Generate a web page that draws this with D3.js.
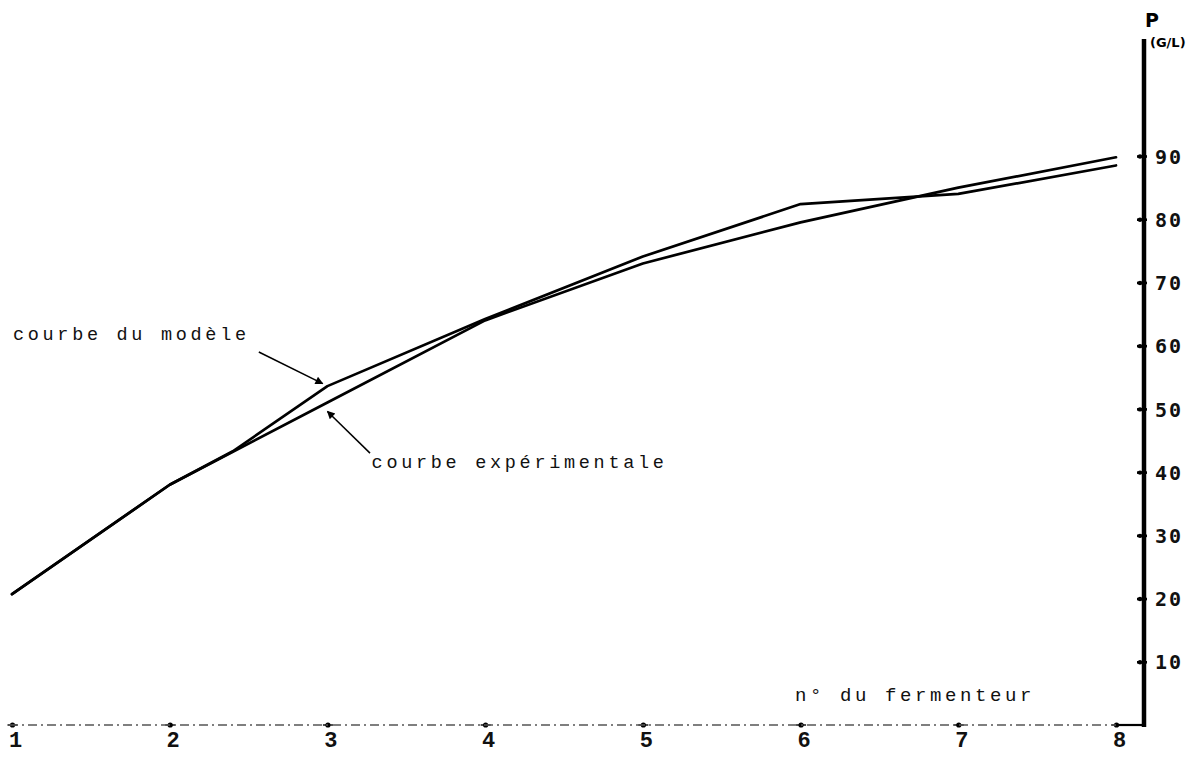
<!DOCTYPE html>
<html><head><meta charset="utf-8">
<script src="https://cdn.jsdelivr.net/npm/d3@7"></script>
<style>body{margin:0;background:#fff}svg{display:block}</style>
</head><body><svg id="c" width="1204" height="758"></svg>
<script>
// ---- data ----
const fermenters = [1, 2, 3, 4, 5, 6, 7, 8];
const experimentalValues = [20.7, 38.0, 51.0, 64.0, 73.0, 79.5, 85.0, 89.8];
const modelFermenters = [1, 2, 2.4, 3, 4, 5, 6, 7, 8];
const modelValues = [20.7, 38.0, 43.3, 53.6, 64.2, 74.1, 82.4, 84.0, 88.5];
const yTickValues = [10, 20, 30, 40, 50, 60, 70, 80, 90];
const xTitle = "n° du fermenteur";
const yTitle = "P";
const yUnit = "(G/L)";
const modelLabel = "courbe du modèle";
const expLabel = "courbe expérimentale";

// ---- layout ----
const svg = d3.select("#c");
const x = d3.scaleLinear().domain([1, 8]).range([12, 1116]);
const y = d3.scaleLinear().domain([0, 90]).range([725, 156]);
const axisXpos = 1144;
const axisTop = 39;

const defs = svg.append("defs");
defs.append("marker").attr("id", "ah").attr("viewBox", "0 0 10 10")
  .attr("refX", 9).attr("refY", 5).attr("markerWidth", 11).attr("markerHeight", 8)
  .attr("markerUnits", "userSpaceOnUse").attr("orient", "auto")
  .append("path").attr("d", "M0,0 L10,5 L0,10 Z").attr("fill", "#000");

// ---- x axis ----
const gx = svg.append("g").attr("transform", `translate(0,${y(0)})`)
  .call(d3.axisBottom(x).tickValues(fermenters).tickSize(0).tickPadding(6).tickFormat(d3.format("d")));
gx.select(".domain").remove();
gx.append("line").attr("x1", x(1) - 3).attr("x2", x(8)).attr("y1", 0).attr("y2", 0)
  .attr("stroke", "#555").attr("stroke-width", 1.3).attr("stroke-dasharray", "9,4,2,4");
gx.append("line").attr("x1", x(8)).attr("x2", axisXpos + 2).attr("y1", 0).attr("y2", 0)
  .attr("stroke", "#000").attr("stroke-width", 2.2);
gx.selectAll(".tick").append("circle").attr("r", 2.6).attr("fill", "#000");
gx.selectAll(".tick").append("line").attr("x1", -5).attr("x2", 5).attr("stroke", "#000").attr("stroke-width", 1.4);
gx.selectAll(".tick text")
  .attr("font-family", "'Liberation Mono', monospace").attr("font-size", 22)
  .attr("font-weight", "bold").attr("fill", "#111").attr("dx", 3).attr("dy", "0.71em");

// ---- y axis ----
const gy = svg.append("g").attr("transform", `translate(${axisXpos},0)`)
  .call(d3.axisRight(y).tickValues(yTickValues).tickSize(0).tickPadding(11));
gy.select(".domain").remove();
gy.append("line").attr("x1", 0).attr("x2", 0).attr("y1", axisTop).attr("y2", y(0) + 2)
  .attr("stroke", "#000").attr("stroke-width", 4.5);
gy.selectAll(".tick").append("line").attr("x1", -7).attr("x2", 3)
  .attr("stroke", "#000").attr("stroke-width", 2.6);
gy.selectAll(".tick").append("circle").attr("cx", -4).attr("r", 2.2).attr("fill", "#000");
gy.selectAll(".tick text")
  .attr("font-family", "'DejaVu Sans Mono', monospace").attr("font-size", 20)
  .attr("font-weight", "bold").attr("letter-spacing", 2)
  .attr("fill", "#111").attr("dy", "0.36em");

svg.append("text").attr("x", axisXpos + 1).attr("y", 27).text(yTitle)
  .attr("font-family", "'DejaVu Sans', sans-serif").attr("font-weight", "bold")
  .attr("font-size", 19).attr("fill", "#000");
svg.append("text").attr("x", axisXpos + 6).attr("y", 47).text(yUnit)
  .attr("font-family", "'DejaVu Sans', sans-serif").attr("font-weight", "bold")
  .attr("font-size", 13).attr("fill", "#000");

svg.append("text").attr("x", 795).attr("y", 701).text(xTitle)
  .attr("font-family", "'Liberation Mono', monospace").attr("font-size", 19)
  .attr("letter-spacing", 3.6).attr("fill", "#111");

// ---- curves ----
const line = d3.line().x(d => x(d[0])).y(d => y(d[1]));
const expData = fermenters.map((f, i) => [f, experimentalValues[i]]);
const modelData = modelFermenters.map((f, i) => [f, modelValues[i]]);
[expData, modelData].forEach(dat => {
  svg.append("path").datum(dat).attr("d", line).attr("fill", "none")
    .attr("stroke", "#000").attr("stroke-width", 2.7)
    .attr("stroke-linejoin", "round").attr("stroke-linecap", "round");
});

// ---- annotations (data units) ----
const annotations = [
  {text: modelLabel, tx: 1.006, tv: 60.9, from: [2.565, 59.0], to: [2.97, 54.0]},
  {text: expLabel, tx: 3.28, tv: 40.7, from: [3.27, 43.0], to: [3.0, 49.6]}
];
annotations.forEach(a => {
  svg.append("text").attr("x", x(a.tx)).attr("y", y(a.tv)).text(a.text)
    .attr("font-family", "'Liberation Mono', monospace").attr("font-size", 18.5)
    .attr("letter-spacing", 3.7).attr("fill", "#111");
  svg.append("line").attr("x1", x(a.from[0])).attr("y1", y(a.from[1]))
    .attr("x2", x(a.to[0])).attr("y2", y(a.to[1]))
    .attr("stroke", "#000").attr("stroke-width", 1.5).attr("marker-end", "url(#ah)");
});
</script></body></html>
